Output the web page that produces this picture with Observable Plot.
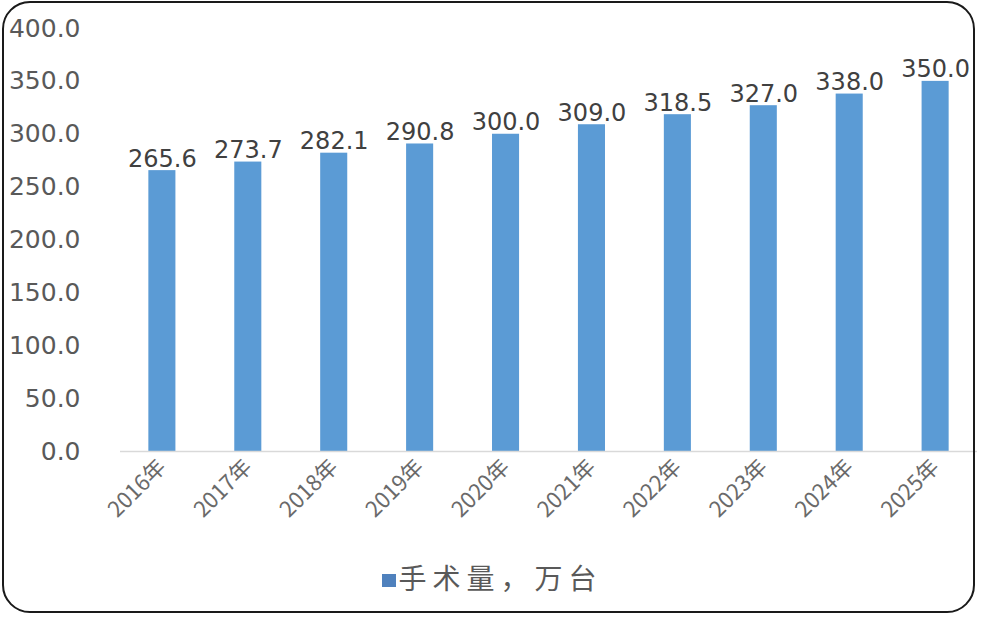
<!DOCTYPE html>
<html>
<head>
<meta charset="utf-8">
<script src="https://cdn.jsdelivr.net/npm/d3@7"></script>
<script src="https://cdn.jsdelivr.net/npm/@observablehq/plot@0.6"></script>
<style>
  html, body { margin: 0; padding: 0; background: #fff; }
  #frame { position: relative; width: 985px; height: 617px; overflow: hidden; }
  #border { position: absolute; left: 2px; top: 1px; width: 973px; height: 612px; box-sizing: border-box;
            border: 2px solid #1a1a1a; border-radius: 28px; pointer-events: none; }
  #chart { position: absolute; left: 0; top: 0; }
  #legend { position: absolute; left: 0; top: 560px; width: 985px; text-align: center; line-height: 34px;
            font-family: "Noto Sans CJK SC", sans-serif; font-size: 28px; letter-spacing: 6px; color: #595959; }
  #legend .sw { display: inline-block; width: 14px; height: 13px; background: #4f81bd; margin-right: 2px; vertical-align: middle; position: relative; top: -1px; }
</style>
</head>
<body>
<div id="frame">
  <div id="chart"></div>
  <div id="legend"><span class="sw"></span><span id="legendText"></span></div>
  <div id="border"></div>
</div>
<script>
const categories = ["2016年","2017年","2018年","2019年","2020年","2021年","2022年","2023年","2024年","2025年"];
const values = [265.6, 273.7, 282.1, 290.8, 300.0, 309.0, 318.5, 327.0, 338.0, 350.0];
const yTicks = [0, 50, 100, 150, 200, 250, 300, 350, 400];
const seriesName = "手术量，万台";

const data = categories.map((c, i) => ({year: c, value: values[i]}));
document.getElementById("legendText").textContent = seriesName;

const plot = Plot.plot({
  width: 985,
  height: 540,
  marginLeft: 120,
  marginRight: 8,
  marginTop: 28,
  marginBottom: 89,
  style: { fontFamily: "DejaVu Sans, sans-serif", color: "#595959", background: "transparent" },
  x: { domain: categories, paddingInner: 0.685, paddingOuter: 0.33, round: false, label: null },
  y: { domain: [0, 400], label: null },
  marks: [
    Plot.barY(data, { x: "year", y: "value", fill: "#5b9bd5" }),
    Plot.ruleY([0], { stroke: "#d9d9d9", strokeWidth: 1.5 }),
    Plot.axisY({ ticks: yTicks, tickFormat: d => d.toFixed(1), tickSize: 0, tickPadding: 40, fontSize: 25, fill: "#595959", style: "letter-spacing: 1.2px" }),
    Plot.axisX({ tickSize: 0, tickRotate: -45, tickPadding: 12, fontSize: 22, fill: "#6a6a6a", fontFamily: "Noto Sans CJK SC, sans-serif" }),
    Plot.text(data, { x: "year", y: "value", text: d => d.value.toFixed(1), lineAnchor: "bottom", dy: -4, fontSize: 24, fill: "#404040", style: "letter-spacing: 1px" })
  ]
});
document.getElementById("chart").appendChild(plot);
</script>
</body>
</html>
